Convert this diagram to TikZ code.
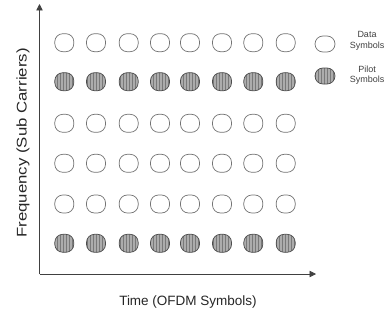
\documentclass[tikz,border=0pt]{standalone}
\usepackage{fontspec}
\setmainfont{Liberation Sans}
\newfontfamily\widesans[FakeStretch=1.2]{Liberation Sans}
\usetikzlibrary{patterns,arrows.meta}

\begin{document}
\begin{tikzpicture}[x=1pt, y=1pt,
    data/.style = {draw=gray!90!black, fill=white, rounded corners=8pt, line width=0.7pt, minimum width=19pt, minimum height=18pt, inner sep=0pt},
    pilot/.style = {data, draw=black!70, preaction={fill=gray!65}, pattern=vertical lines, pattern color=gray!95!black},
    axis/.style = {draw=black!75, line width=0.8pt, -{Triangle[length=6.5pt,width=6.5pt]}},
    legtext/.style = {align=center, font=\fontsize{9}{10.5}\selectfont, text=black!75}]
    \useasboundingbox (0,0) rectangle (385,322);

    % Assi
    \coordinate (o) at (39.5,48);
    \coordinate (ytop) at (39.5,318);
    \coordinate (xend) at (316,48);
    \draw[axis] (o) -- (ytop);
    \draw[axis] (o) -- (xend);

    % Griglia dei simboli
    \foreach \x [count=\i] in {64.3,96,128.7,160,190,222,253.3,285.7} {
        \node[data] (d1\i) at (\x,279.3) {};
        \node[pilot] (p2\i) at (\x,240.3) {};
        \node[data] (d3\i) at (\x,198.7) {};
        \node[data] (d4\i) at (\x,158.7) {};
        \node[data] (d5\i) at (\x,118) {};
        \node[pilot] (p6\i) at (\x,78.7) {};
    }

    % Legenda
    \node[data, minimum width=20pt, minimum height=16pt] (ldata) at (325,278) {};
    \node[pilot, minimum width=20pt, minimum height=16pt] (lpilot) at (325,246) {};
    \node[legtext] (tdata) at (367,281) {Data\\Symbols};
    \node[legtext] (tpilot) at (367,247) {Pilot\\Symbols};

    % Etichette
    \node[rotate=90, font=\widesans\fontsize{14}{16}\selectfont, text=black!85] (flabel) at (23,179) {Frequency (Sub Carriers)};
    \node[font=\fontsize{13.5}{16}\selectfont, text=black!85] (tlabel) at (188,20) {Time (OFDM Symbols)};
\end{tikzpicture}
\end{document}
